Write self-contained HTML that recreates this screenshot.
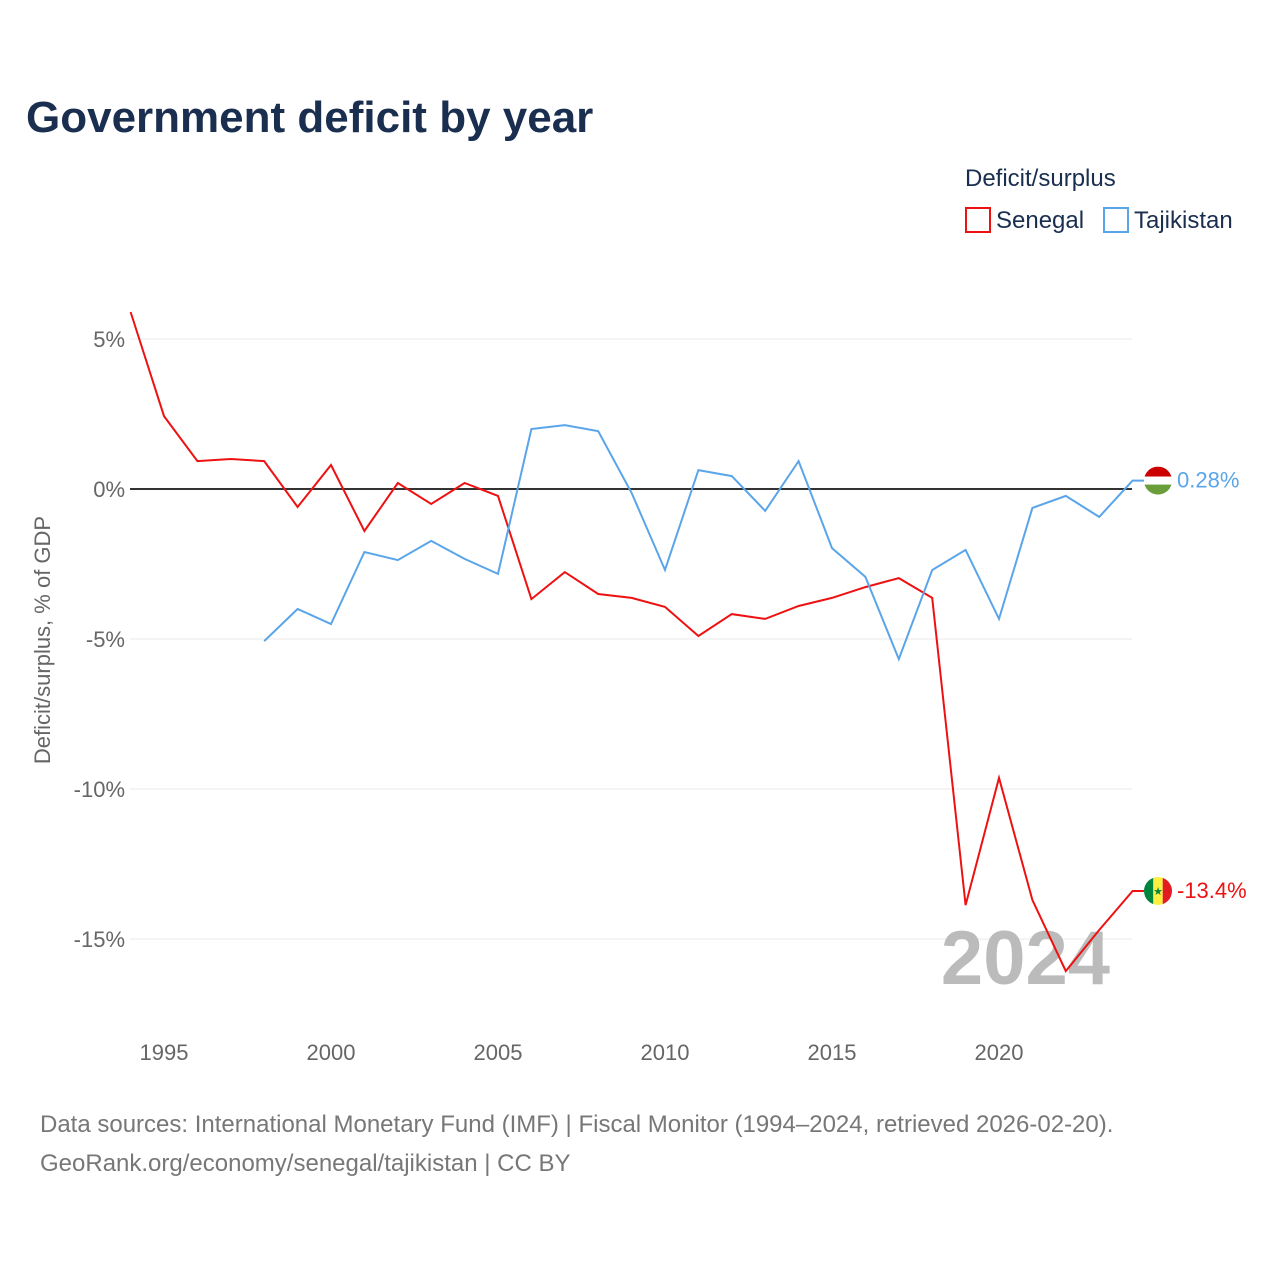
<!DOCTYPE html>
<html><head><meta charset="utf-8"><style>
body{margin:0;width:1280px;height:1280px;background:#fff;font-family:"Liberation Sans",sans-serif;overflow:hidden}
</style></head><body>
<svg width="1280" height="1280" xmlns="http://www.w3.org/2000/svg">
<defs id="defs"></defs>
<text x="26" y="132" font-size="44" font-weight="bold" fill="#1a2e4f">Government deficit by year</text>
<text x="965" y="186" font-size="24" fill="#1a2e4f">Deficit/surplus</text>
<g><rect x="966" y="208" width="24" height="24" fill="none" stroke="#ee1111" stroke-width="2"/><text x="996" y="228" font-size="24" fill="#1a2e4f">Senegal</text></g>
<g><rect x="1104" y="208" width="24" height="24" fill="none" stroke="#5aa5ea" stroke-width="2"/><text x="1134" y="228" font-size="24" fill="#1a2e4f">Tajikistan</text></g>
<g id="grid"></g>
<text transform="translate(50,640) rotate(-90)" text-anchor="middle" font-size="22" fill="#666">Deficit/surplus, % of GDP</text>
<text x="1110" y="984" text-anchor="end" font-size="76" font-weight="bold" fill="#bbb">2024</text>
<g id="plot"></g>
<text x="40" y="1132" font-size="24" fill="#777">Data sources: International Monetary Fund (IMF) | Fiscal Monitor (1994–2024, retrieved 2026-02-20).</text>
<text x="40" y="1171" font-size="24" fill="#777">GeoRank.org/economy/senegal/tajikistan | CC BY</text>
</svg>
<script>
const yTicks=[5,0,-5,-10,-15];
const xTicks=[1995,2000,2005,2010,2015,2020];
const senegalYears=[1994,1995,1996,1997,1998,1999,2000,2001,2002,2003,2004,2005,2006,2007,2008,2009,2010,2011,2012,2013,2014,2015,2016,2017,2018,2019,2020,2021,2022,2023,2024];
const senegalValues=[5.9,2.43,0.93,1.0,0.93,-0.6,0.8,-1.4,0.2,-0.5,0.2,-0.23,-3.67,-2.77,-3.5,-3.63,-3.93,-4.9,-4.17,-4.33,-3.9,-3.63,-3.27,-2.97,-3.63,-13.87,-9.63,-13.7,-16.07,-14.7,-13.4];
const tajikYears=[1998,1999,2000,2001,2002,2003,2004,2005,2006,2007,2008,2009,2010,2011,2012,2013,2014,2015,2016,2017,2018,2019,2020,2021,2022,2023,2024];
const tajikValues=[-5.07,-4.0,-4.5,-2.1,-2.37,-1.73,-2.33,-2.83,2.0,2.13,1.93,-0.13,-2.7,0.63,0.43,-0.73,0.93,-1.97,-2.93,-5.67,-2.7,-2.03,-4.33,-0.63,-0.23,-0.93,0.28];
const NS="http://www.w3.org/2000/svg";
const x=yr=>164+(yr-1995)*(331-164)/5;
const y=v=>489-v*30;
function mk(t,a,p){const e=document.createElementNS(NS,t);for(const k in a)e.setAttribute(k,a[k]);p.appendChild(e);return e;}
const grid=document.getElementById('grid'),plot=document.getElementById('plot'),defs=document.getElementById('defs');
yTicks.forEach(v=>{
 if(v!==0){const l=mk('line',{x1:130,x2:1132,y1:y(v),y2:y(v),stroke:'#e8e8e8','stroke-width':1},grid);
 
 }
 const t=mk('text',{x:125,y:y(v)+8,'text-anchor':'end','font-size':22,fill:'#666'},grid);t.textContent=v+'%';
 
 
});
xTicks.forEach(yr=>{const t=mk('text',{x:x(yr),y:1060,'text-anchor':'middle','font-size':22,fill:'#666'},grid);t.textContent=yr;
 
 });
const z=mk('line',{x1:130,x2:1132,y1:y(0),y2:y(0),stroke:'#333','stroke-width':2},grid);


function line(ys,vs,c,name){
 const p=mk('polyline',{points:ys.map((yr,i)=>x(yr)+','+y(vs[i])).join(' '),fill:'none',stroke:c,'stroke-width':2},plot);
 
 
}
line(senegalYears,senegalValues,'#ee1111','senegal-line');
line(tajikYears,tajikValues,'#5aa5ea','tajikistan-line');
function endLabel(v,c,name,flag){
 const cy=y(v);
 const cp=mk('clipPath',{id:'clip-'+flag},defs);
 mk('circle',{cx:1158,cy:cy,r:14},cp);
 const g=mk('g',{},plot);
 
 
 mk('line',{x1:1132,x2:1144,y1:cy,y2:cy,stroke:c,'stroke-width':2},g);
 const f=mk('g',{'clip-path':'url(#clip-'+flag+')'},g);
 if(flag==='sn'){
  mk('rect',{x:1144,y:cy-14,width:9.3,height:28,fill:'#00853f'},f);
  mk('rect',{x:1153.3,y:cy-14,width:9.4,height:28,fill:'#fdef42'},f);
  mk('rect',{x:1162.7,y:cy-14,width:9.3,height:28,fill:'#e31b23'},f);
  mk('text',{x:1158,y:cy+4,'text-anchor':'middle','font-size':11,fill:'#00853f'},f).textContent='★';
 } else {
  mk('rect',{x:1144,y:cy-14,width:28,height:10,fill:'#cc0000'},f);
  mk('rect',{x:1144,y:cy-4,width:28,height:8,fill:'#fff'},f);
  mk('rect',{x:1144,y:cy+4,width:28,height:10,fill:'#6a9e3a'},f);
 }
 const t=mk('text',{x:1177,y:cy+7,'font-size':22,fill:c},g);t.textContent=v.toFixed(Math.abs(v)<1?2:1)+'%';
}
endLabel(tajikValues[tajikValues.length-1],'#5aa5ea','tajikistan-end-label','tj');
endLabel(senegalValues[senegalValues.length-1],'#ee1111','senegal-end-label','sn');
</script>
</body></html>
